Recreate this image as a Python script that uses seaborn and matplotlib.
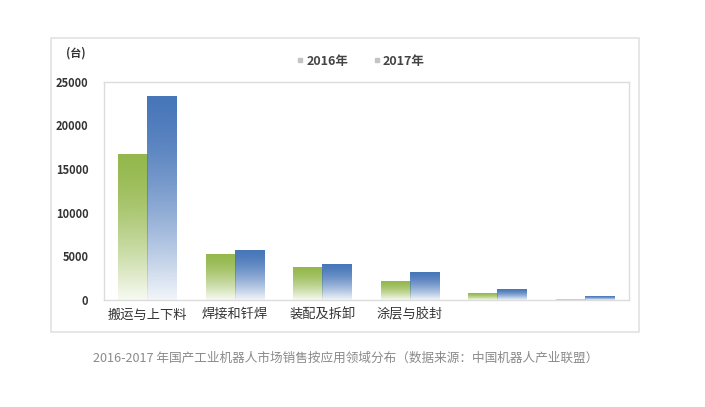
import numpy as np
import pandas as pd
import matplotlib
matplotlib.use("Agg")
import matplotlib.pyplot as plt
import matplotlib.colors as mcolors
from matplotlib.lines import Line2D
from matplotlib.patches import Rectangle
import seaborn as sns

# data
categories = ["搬运与上下料", "焊接和钎焊", "装配及拆卸", "涂层与胶封", "类别5", "类别6"]
tick_labels = ["搬运与上下料", "焊接和钎焊", "装配及拆卸", "涂层与胶封", "", ""]
years = ["2016年", "2017年"]
sales_2016 = [16630, 5240, 3750, 2100, 700, 40]
sales_2017 = [23310, 5650, 4010, 3170, 1150, 450]
y_ticks = [0, 5000, 10000, 15000, 20000, 25000]

df = pd.DataFrame({
    "领域": categories * 2,
    "年份": [years[0]] * len(categories) + [years[1]] * len(categories),
    "销量": sales_2016 + sales_2017,
})

sns.set_style("white")
plt.rcParams["font.family"] = ["Noto Sans CJK SC", "DejaVu Sans"]

green = "#94b84c"
blue = "#4776b9"


def fade_bar(ax, patch, color):
    # excel-like fill: solid at the top, fading out to white at the base
    x, y = patch.get_x(), patch.get_y()
    w, h = patch.get_width(), patch.get_height()
    patch.set_visible(False)
    if h <= 0:
        return
    grad = np.ones((256, 1, 4))
    grad[:, 0, :3] = mcolors.to_rgb(color)
    t = np.linspace(0, 1, 256)
    grad[:, 0, 3] = 1.0 - 0.93 * t ** 1.5
    ax.imshow(grad, extent=[x, x + w, y, y + h], aspect="auto",
              origin="upper", zorder=2, interpolation="bilinear")


fig = plt.figure(figsize=(7.05, 4.07), dpi=100)
ax = fig.add_axes([103.7 / 705, 1 - 300 / 407, 525 / 705, 218.3 / 407])

sns.barplot(data=df, x="领域", y="销量", hue="年份", order=categories,
            hue_order=years, palette=[green, blue], width=0.667,
            legend=False, ax=ax)

for cont, col in zip(ax.containers, [green, blue]):
    for p in cont.patches:
        fade_bar(ax, p, col)

ax.set_xlim(-0.5, len(categories) - 0.5)
ax.set_ylim(0, 25000)
ax.set_yticks(y_ticks)
ax.set_yticklabels([str(v) for v in y_ticks], fontsize=8, fontweight="bold",
                   color="#333333")
ax.set_xticks(range(len(categories)))
ax.set_xticklabels(tick_labels, fontsize=9.5, color="#333333")
ax.tick_params(axis="y", length=0, pad=11)
ax.tick_params(axis="x", length=0, pad=6)
ax.set_xlabel("")
ax.set_ylabel("")
for s in ax.spines.values():
    s.set_color("#dcdcdc")
    s.set_linewidth(1.0)

# legend with small grey squares like the original
handles = [Line2D([], [], ls="", marker="s", markersize=3.5, color="#c4c4c4")
           for _ in years]
fig.legend(handles, years, loc="center", bbox_to_anchor=(0.512, 1 - 61 / 407),
           ncol=2, frameon=False, handlelength=0.5, handletextpad=0.25,
           columnspacing=2.0, prop={"size": 9, "weight": "bold"},
           labelcolor="#444444")

fig.text(75.7 / 705, 1 - 52.7 / 407, "(台)", fontsize=8, fontweight="bold",
         color="#333333", ha="center", va="center")

# outer light frame of the chart image
fig.patches.append(Rectangle((51 / 705, 1 - 331.7 / 407), 588 / 705, 294 / 407,
                             transform=fig.transFigure, fill=False,
                             ec="#e2e2e2", lw=1.2))

fig.text(346 / 705, 1 - 358 / 407,
         "2016-2017 年国产工业机器人市场销售按应用领域分布（数据来源：中国机器人产业联盟）",
         fontsize=9.1, color="#8a8a8a", ha="center", va="center")

fig.savefig("out.png", dpi=100)
